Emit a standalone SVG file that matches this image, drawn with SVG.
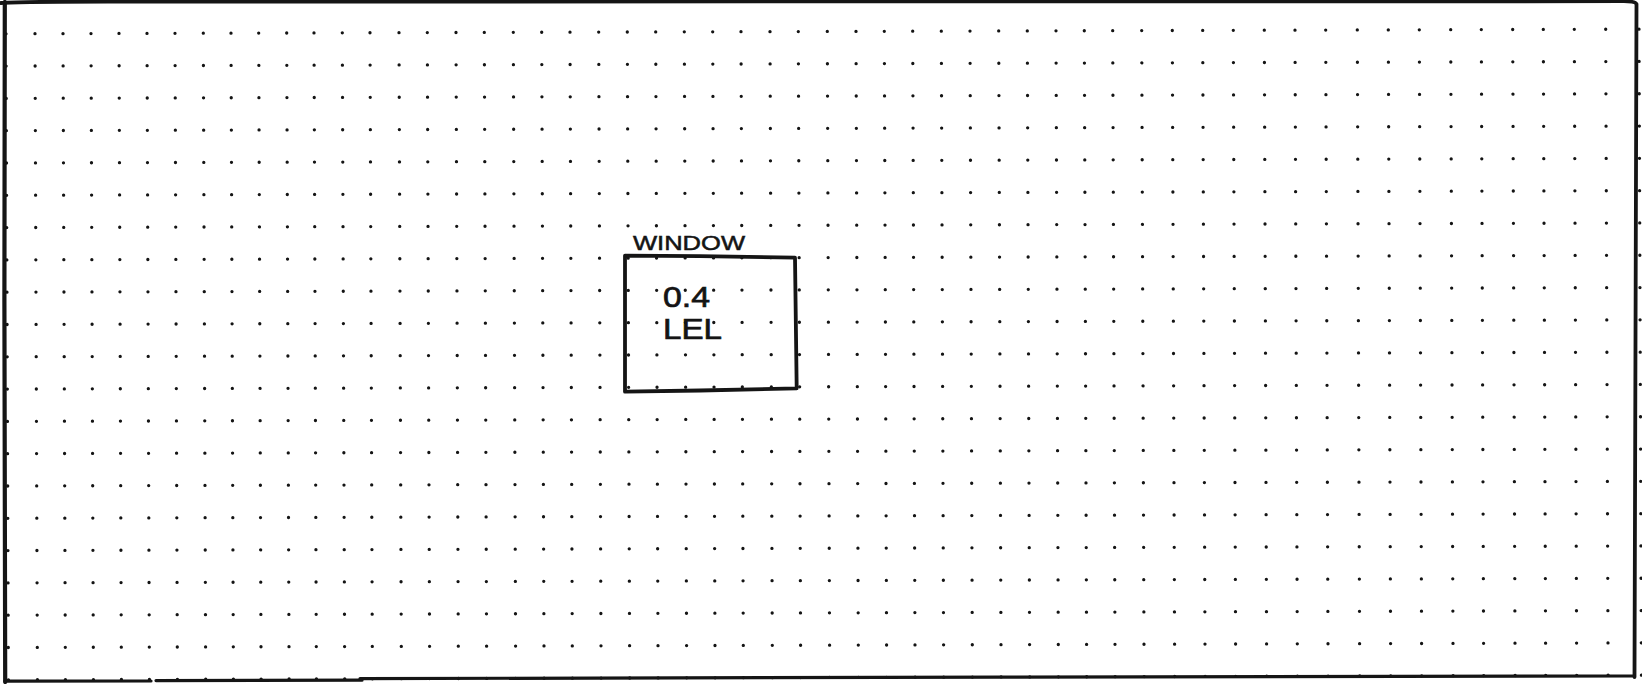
<svg xmlns="http://www.w3.org/2000/svg" width="1642" height="684" viewBox="0 0 1642 684">
  <style>
    .d{stroke:#141414;stroke-width:3.3;stroke-linecap:round;stroke-dasharray:0 32.3;fill:none}
    .frame{stroke:#151515;fill:none;stroke-linecap:round;stroke-linejoin:round}
    .box{stroke:#151515;stroke-width:3.8;fill:none;stroke-linejoin:round}
    .lbl{font-family:"Liberation Sans",Arial,sans-serif;fill:#141414;stroke:#141414;stroke-width:0.7}
  </style>
  <rect x="0" y="0" width="1642" height="684" fill="#ffffff"/>
  <g id="dot-grid" transform="matrix(1 -0.00283 0.00375 1 -0.13 0.1)">
    <line class="d" x1="6" y1="33.7" x2="6" y2="680.5"/>
    <line class="d" x1="35" y1="33.7" x2="35" y2="680.5"/>
    <line class="d" x1="63" y1="33.7" x2="63" y2="680.5"/>
    <line class="d" x1="91" y1="33.7" x2="91" y2="680.5"/>
    <line class="d" x1="119" y1="33.7" x2="119" y2="680.5"/>
    <line class="d" x1="147" y1="33.7" x2="147" y2="680.5"/>
    <line class="d" x1="175" y1="33.7" x2="175" y2="680.5"/>
    <line class="d" x1="203.3" y1="33.7" x2="203.3" y2="680.5"/>
    <line class="d" x1="231" y1="33.7" x2="231" y2="680.5"/>
    <line class="d" x1="258.7" y1="33.7" x2="258.7" y2="680.5"/>
    <line class="d" x1="286.7" y1="33.7" x2="286.7" y2="680.5"/>
    <line class="d" x1="314" y1="33.7" x2="314" y2="680.5"/>
    <line class="d" x1="342.3" y1="33.7" x2="342.3" y2="680.5"/>
    <line class="d" x1="370" y1="33.7" x2="370" y2="680.5"/>
    <line class="d" x1="399" y1="33.7" x2="399" y2="680.5"/>
    <line class="d" x1="427.3" y1="33.7" x2="427.3" y2="680.5"/>
    <line class="d" x1="456" y1="33.7" x2="456" y2="680.5"/>
    <line class="d" x1="484.3" y1="33.7" x2="484.3" y2="680.5"/>
    <line class="d" x1="513.3" y1="33.7" x2="513.3" y2="680.5"/>
    <line class="d" x1="541.7" y1="33.7" x2="541.7" y2="680.5"/>
    <line class="d" x1="570" y1="33.7" x2="570" y2="680.5"/>
    <line class="d" x1="598.7" y1="33.7" x2="598.7" y2="680.5"/>
    <line class="d" x1="627.3" y1="33.7" x2="627.3" y2="680.5"/>
    <line class="d" x1="655.7" y1="33.7" x2="655.7" y2="680.5"/>
    <line class="d" x1="684.3" y1="33.7" x2="684.3" y2="680.5"/>
    <line class="d" x1="712.7" y1="33.7" x2="712.7" y2="680.5"/>
    <line class="d" x1="741" y1="33.7" x2="741" y2="680.5"/>
    <line class="d" x1="770" y1="33.7" x2="770" y2="680.5"/>
    <line class="d" x1="798.3" y1="33.7" x2="798.3" y2="680.5"/>
    <line class="d" x1="827.3" y1="33.7" x2="827.3" y2="680.5"/>
    <line class="d" x1="856" y1="33.7" x2="856" y2="680.5"/>
    <line class="d" x1="884.3" y1="33.7" x2="884.3" y2="680.5"/>
    <line class="d" x1="912.7" y1="33.7" x2="912.7" y2="680.5"/>
    <line class="d" x1="941.3" y1="33.7" x2="941.3" y2="680.5"/>
    <line class="d" x1="970" y1="33.7" x2="970" y2="680.5"/>
    <line class="d" x1="998.7" y1="33.7" x2="998.7" y2="680.5"/>
    <line class="d" x1="1027.3" y1="33.7" x2="1027.3" y2="680.5"/>
    <line class="d" x1="1056" y1="33.7" x2="1056" y2="680.5"/>
    <line class="d" x1="1084.3" y1="33.7" x2="1084.3" y2="680.5"/>
    <line class="d" x1="1112.7" y1="33.7" x2="1112.7" y2="680.5"/>
    <line class="d" x1="1141.7" y1="33.7" x2="1141.7" y2="680.5"/>
    <line class="d" x1="1172.3" y1="33.7" x2="1172.3" y2="680.5"/>
    <line class="d" x1="1202.7" y1="33.7" x2="1202.7" y2="680.5"/>
    <line class="d" x1="1233.3" y1="33.7" x2="1233.3" y2="680.5"/>
    <line class="d" x1="1264.3" y1="33.7" x2="1264.3" y2="680.5"/>
    <line class="d" x1="1295" y1="33.7" x2="1295" y2="680.5"/>
    <line class="d" x1="1325.7" y1="33.7" x2="1325.7" y2="680.5"/>
    <line class="d" x1="1357.3" y1="33.7" x2="1357.3" y2="680.5"/>
    <line class="d" x1="1388.3" y1="33.7" x2="1388.3" y2="680.5"/>
    <line class="d" x1="1419.3" y1="33.7" x2="1419.3" y2="680.5"/>
    <line class="d" x1="1450.7" y1="33.7" x2="1450.7" y2="680.5"/>
    <line class="d" x1="1481.3" y1="33.7" x2="1481.3" y2="680.5"/>
    <line class="d" x1="1512.7" y1="33.7" x2="1512.7" y2="680.5"/>
    <line class="d" x1="1543.3" y1="33.7" x2="1543.3" y2="680.5"/>
    <line class="d" x1="1574.3" y1="33.7" x2="1574.3" y2="680.5"/>
    <line class="d" x1="1605.7" y1="33.7" x2="1605.7" y2="680.5"/>
    <line class="d" x1="1639" y1="33.7" x2="1639" y2="680.5"/>
  </g>
  <g id="page-frame">
    <path class="frame" stroke-width="3.8" d="M1 3 Q 20 1.5 120 1.6 L 1622 1.2 Q 1635 1 1636.5 4 L 1634.5 677"/>
    <path class="frame" stroke-width="4.2" d="M4.8 2 L 4.4 300 L 5.2 682"/>
    <path class="frame" stroke-width="3.2" d="M5 681.2 L 151 681"/>
    <path class="frame" stroke-width="3.2" d="M156 680.6 L 362 680.2"/>
    <path class="frame" stroke-width="3.2" d="M360 678.6 L 1000 677.2 L 1634.5 676"/>
  </g>
  <g id="connectors"/>
  <g id="window">
    <path class="box" d="M625 255.7 L 700 256.2 L 795 257.7 L 796.7 388.3 L 700 390.5 L 625 391.7 Z"/>
    <text class="lbl" x="633" y="249.5" font-size="20" textLength="112" lengthAdjust="spacingAndGlyphs" style="stroke-width:0.5">WINDOW</text>
    <text class="lbl" x="663" y="307" font-size="30" textLength="47" lengthAdjust="spacingAndGlyphs">0.4</text>
    <text class="lbl" x="663" y="339" font-size="29" textLength="59" lengthAdjust="spacingAndGlyphs">LEL</text>
  </g>
</svg>
